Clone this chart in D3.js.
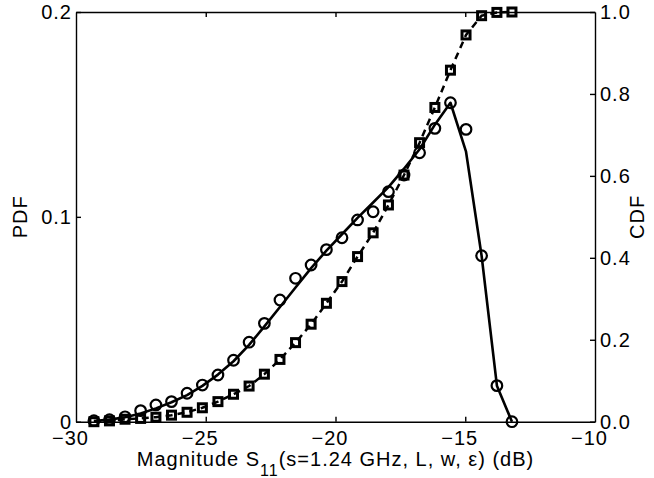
<!DOCTYPE html>
<html>
<head>
<meta charset="utf-8">
<script src="https://cdn.jsdelivr.net/npm/d3@7"></script>
<style>
  body { margin: 0; background: #fff; }
  svg { display: block; font-family: "Liberation Sans", Arial, Helvetica, sans-serif; }
  .axis path, .axis line { stroke: #000; stroke-width: 1.4px; }
  .axis text { fill: #000; font-size: 20px; letter-spacing: 1px; }
  .label { font-size: 20px; letter-spacing: 1px; }
</style>
</head>
<body>
<svg id="chart" width="654" height="478"></svg>
<script>
// bin centres (dB)
const magnitude = [-29.31, -28.71, -28.11, -27.51, -26.92, -26.32, -25.72, -25.13, -24.53, -23.93,
                   -23.33, -22.74, -22.14, -21.54, -20.94, -20.35, -19.75, -19.15, -18.55, -17.96,
                   -17.36, -16.76, -16.17, -15.57, -14.97, -14.37, -13.78, -13.20];
// histogram PDF (circles)
const pdfHist = [0.0005, 0.001, 0.0024, 0.0054, 0.0082, 0.0098, 0.0139, 0.0179, 0.0228, 0.0300,
                 0.0388, 0.0480, 0.0594, 0.0700, 0.0765, 0.0840, 0.0898, 0.0985, 0.1025, 0.1123,
                 0.1204, 0.1313, 0.1432, 0.1557, 0.1427, 0.0810, 0.0176, 0.0];
// smooth PDF (solid line)
const pdfLine = [0.0003, 0.001, 0.0022, 0.0040, 0.0065, 0.0095, 0.0130, 0.0175, 0.0230, 0.0295,
                 0.0375, 0.0465, 0.0560, 0.0655, 0.0750, 0.0835, 0.0915, 0.0995, 0.1070, 0.1145,
                 0.1235, 0.1330, 0.1450, 0.1557, 0.1318, 0.0810, 0.0176, 0.0];
// CDF (squares, dashed)
const cdf = [0.000, 0.002, 0.006, 0.008, 0.011, 0.016, 0.023, 0.034, 0.049, 0.067,
             0.087, 0.116, 0.152, 0.193, 0.238, 0.289, 0.342, 0.403, 0.461, 0.529,
             0.602, 0.681, 0.767, 0.858, 0.944, 0.991, 0.999, 1.000];

const xTicks = [-30, -25, -20, -15, -10];
const pdfTicks = [0, 0.1, 0.2];
const cdfTicks = [0, 0.2, 0.4, 0.6, 0.8, 1.0];

const svg = d3.select("#chart");
const mLeft = 76, mRight = 595, mTop = 12, mBottom = 421.7;

const x = d3.scaleLinear().domain([-30, -10]).range([mLeft, mRight]);
const yPdf = d3.scaleLinear().domain([0, 0.2]).range([mBottom, mTop]);
const yCdf = d3.scaleLinear().domain([0, 1]).range([mBottom, mTop]);

// axes: ticks inside the box
svg.append("g").attr("class", "axis")
    .attr("transform", `translate(0,${mBottom})`)
    .call(d3.axisBottom(x).tickValues(xTicks).tickSizeInner(-5).tickSizeOuter(0).tickPadding(9))
    .selectAll("text").attr("dx", "-6");
svg.append("g").attr("class", "axis")
    .attr("transform", `translate(0,${mTop})`)
    .call(d3.axisTop(x).tickValues(xTicks).tickSizeInner(-5).tickSizeOuter(0).tickFormat(""));
svg.append("g").attr("class", "axis")
    .attr("transform", `translate(${mLeft},0)`)
    .call(d3.axisLeft(yPdf).tickValues(pdfTicks).tickSizeInner(-5).tickSizeOuter(0).tickPadding(4)
        .tickFormat(d => d === 0 ? "0" : d.toFixed(1)));
svg.append("g").attr("class", "axis")
    .attr("transform", `translate(${mRight},0)`)
    .call(d3.axisRight(yCdf).tickValues(cdfTicks).tickSizeInner(-5).tickSizeOuter(0).tickPadding(5)
        .tickFormat(d => d.toFixed(1)));

// remove end ticks that would sit on the box corners
svg.selectAll(".axis .tick line").filter(function (d) {
    return d === -30 || d === -10;
}).remove();

// axis labels
const xl = svg.append("text").attr("class", "label")
    .attr("x", (mLeft + mRight) / 2).attr("y", 466)
    .attr("text-anchor", "middle");
xl.append("tspan").text("Magnitude S");
xl.append("tspan").attr("font-size", 16).attr("dy", 10).text("11");
xl.append("tspan").attr("dy", -10).text("(s=1.24 GHz, L, w, ε) (dB)");

svg.append("text").attr("class", "label")
    .attr("transform", `translate(27,${(mTop + mBottom) / 2}) rotate(-90)`)
    .attr("text-anchor", "middle").text("PDF");
svg.append("text").attr("class", "label")
    .attr("transform", `translate(644,${(mTop + mBottom) / 2}) rotate(-90)`)
    .attr("text-anchor", "middle").text("CDF");

// CDF dashed line with squares
const cdfLine = d3.line().x((d, i) => x(magnitude[i])).y(d => yCdf(d));
svg.append("path").datum(cdf)
    .attr("d", cdfLine)
    .attr("fill", "none").attr("stroke", "#000").attr("stroke-width", 2.5)
    .attr("stroke-dasharray", "7,5");
svg.append("g").selectAll("rect").data(cdf).join("rect")
    .attr("x", (d, i) => x(magnitude[i]) - 4)
    .attr("y", d => yCdf(d) - 4)
    .attr("width", 8).attr("height", 8)
    .attr("fill", "none").attr("stroke", "#000").attr("stroke-width", 3);

// PDF solid line with circles
const pLine = d3.line().x((d, i) => x(magnitude[i])).y(d => yPdf(d));
svg.append("path").datum(pdfLine)
    .attr("d", pLine)
    .attr("fill", "none").attr("stroke", "#000").attr("stroke-width", 2.6)
    .attr("stroke-linejoin", "round");
svg.append("g").selectAll("circle").data(pdfHist).join("circle")
    .attr("cx", (d, i) => x(magnitude[i]))
    .attr("cy", d => yPdf(d))
    .attr("r", 5.3)
    .attr("fill", "none").attr("stroke", "#000").attr("stroke-width", 2.2);
</script>
</body>
</html>
